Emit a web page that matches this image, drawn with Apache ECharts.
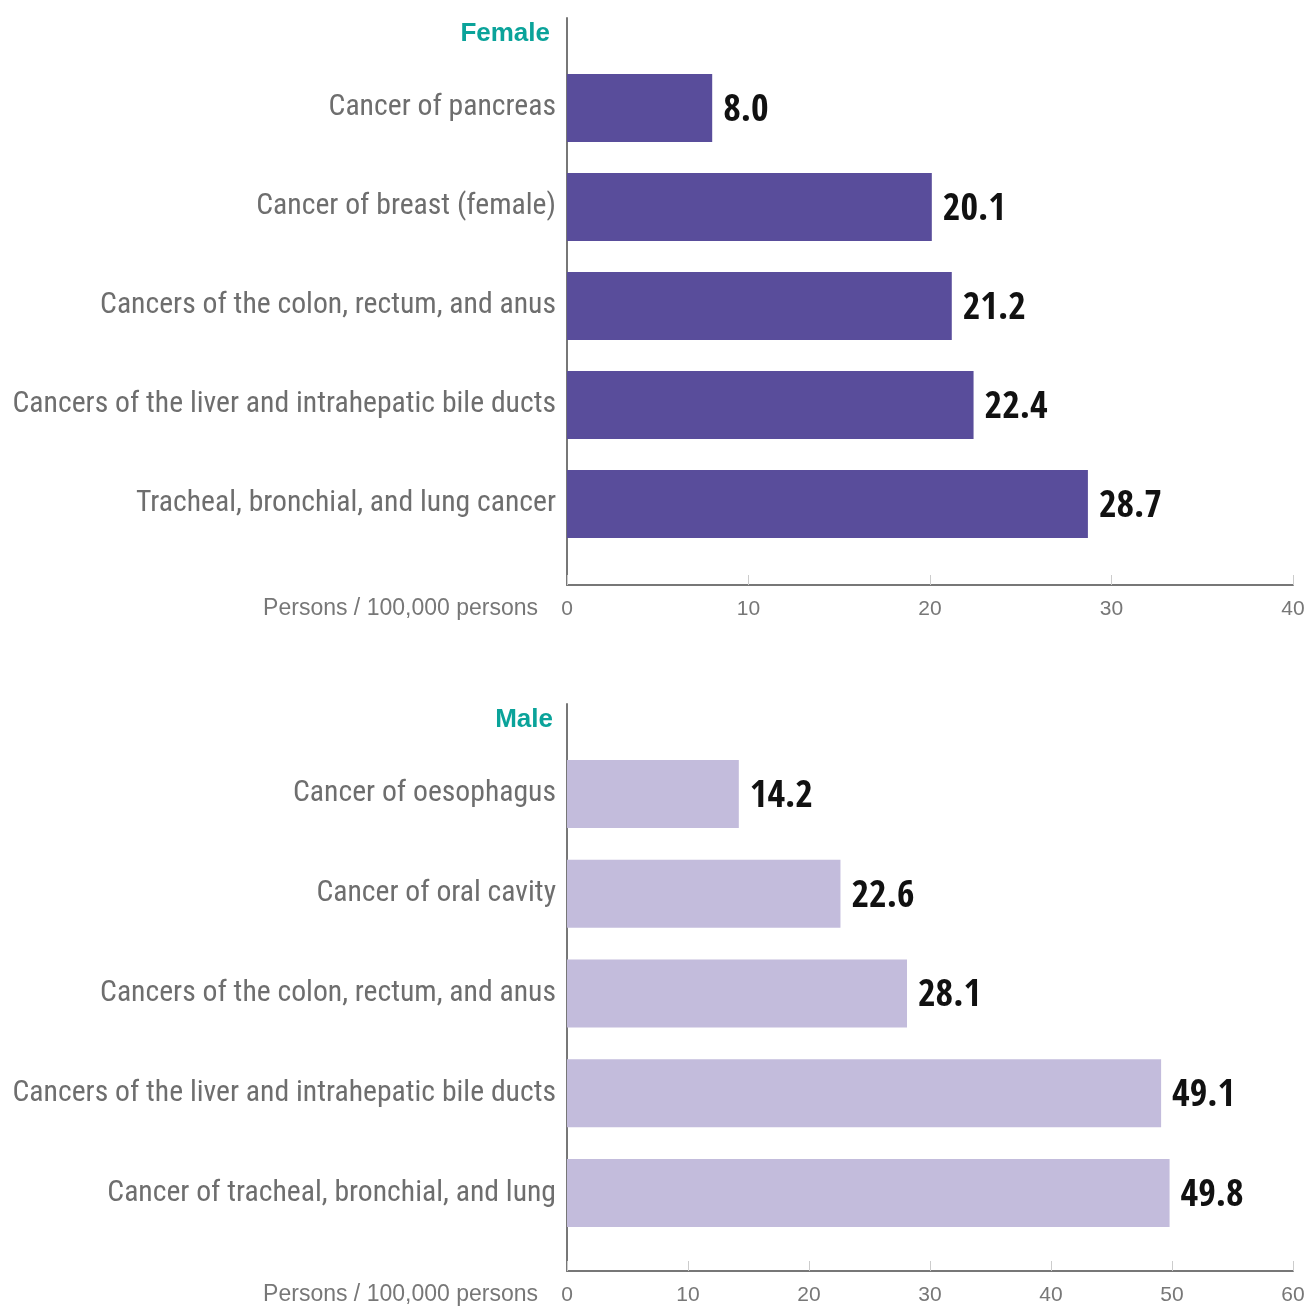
<!DOCTYPE html>
<html>
<head>
<meta charset="utf-8">
<script src="https://cdn.jsdelivr.net/npm/echarts@6/dist/echarts.min.js"></script>
<style>html,body{margin:0;padding:0;background:#fff}#c{width:1309px;height:1309px}</style>
</head>
<body>
<div id="c"></div>
<script>
const femaleCategories = ["Cancer of pancreas","Cancer of breast (female)","Cancers of the colon, rectum, and anus","Cancers of the liver and intrahepatic bile ducts","Tracheal, bronchial, and lung cancer"];
const femaleValues = [8.0, 20.1, 21.2, 22.4, 28.7];
const maleCategories = ["Cancer of oesophagus","Cancer of oral cavity","Cancers of the colon, rectum, and anus","Cancers of the liver and intrahepatic bile ducts","Cancer of tracheal, bronchial, and lung"];
const maleValues = [14.2, 22.6, 28.1, 49.1, 49.8];
const femaleTicks = {min: 0, max: 40, interval: 10};
const maleTicks = {min: 0, max: 60, interval: 10};
const axisName = "Persons / 100,000 persons";

// --- choose an installed condensed font and fit sizes to the reference text widths ---
const mctx = document.createElement('canvas').getContext('2d');
function w(font, text) { mctx.font = font; return mctx.measureText(text).width; }
function has(fam) {
  const t = 'abcdefghijklmnopqrstuvwxyz0123456789';
  return w('100px "' + fam + '", monospace', t) !== w('100px monospace', t) ||
         w('100px "' + fam + '", serif', t) !== w('100px serif', t);
}
const longest = "Cancers of the liver and intrahepatic bile ducts";
const catPrefs = ['Roboto Condensed', 'Liberation Sans Narrow', 'Open Sans Condensed', 'DejaVu Sans Condensed', 'Roboto'];
const catName = catPrefs.find(has) || 'sans-serif';
const catWeight = 'normal';
const catFam = '"' + catName + '", sans-serif';
const catSize = Math.min(36, Math.floor(100 * 544 / w(catWeight + ' 100px ' + catFam, longest) * 10) / 10);

const valPrefs = ['Open Sans Condensed', 'Roboto Condensed', 'Liberation Sans Narrow', 'DejaVu Sans Condensed', 'Roboto'];
const valName = valPrefs.find(has) || 'sans-serif';
const valFam = '"' + valName + '", sans-serif';
const valFit = 100 * 56 / w('bold 100px ' + valFam, '28.7');
const valSize = Math.round(valFit * 0.5 + 42 * 0.5);

const chart = echarts.init(document.getElementById('c'), null, {renderer: 'canvas'});
const grey = '#777777';
const arial = 'Liberation Sans, Arial, sans-serif';

function axisX(gridIndex, t) {
  return {
    type: 'value', gridIndex: gridIndex, min: t.min, max: t.max, interval: t.interval,
    axisLine: {show: true, lineStyle: {color: grey, width: 2}},
    axisTick: {show: true, inside: true, length: 10, lineStyle: {color: '#cccccc', width: 1}},
    axisLabel: {color: grey, fontSize: 21, fontFamily: arial, margin: 14},
    splitLine: {show: false},
    name: '\n' + axisName, nameLocation: 'start', nameGap: 29,
    nameTextStyle: {color: grey, fontSize: 23, fontFamily: arial, lineHeight: 48, align: 'right', verticalAlign: 'middle'}
  };
}
function hiddenX(gridIndex, t) {
  return {type: 'value', gridIndex: gridIndex, min: t.min, max: t.max, interval: t.interval, show: false};
}
function frameY(gridIndex) {
  return {type: 'value', gridIndex: gridIndex, min: 0, max: 1,
    axisLine: {show: true, lineStyle: {color: grey, width: 2}},
    axisTick: {show: false}, axisLabel: {show: false}, splitLine: {show: false}};
}
function catY(gridIndex, cats) {
  return {type: 'category', gridIndex: gridIndex, data: cats, inverse: true,
    axisLine: {show: false}, axisTick: {show: false},
    axisLabel: {color: '#6e6e6e', fontSize: catSize, fontWeight: catWeight, fontFamily: catFam, margin: 11,
      padding: [8, 0, 0, 0]}};
}
function barSeries(xi, yi, vals, color) {
  return {type: 'bar', xAxisIndex: xi, yAxisIndex: yi, data: vals, barWidth: 68,
    itemStyle: {color: color},
    label: {show: true, position: 'right', distance: 11, offset: [0, 3], formatter: p => p.value.toFixed(1),
      color: '#111111', fontSize: valSize, fontWeight: 'bold', fontFamily: valFam},
    silent: true};
}
const g = (top, height) => ({left: 567, width: 726, top: top, height: height, containLabel: false, outerBoundsMode: 'none'});

chart.setOption({
  animation: false,
  backgroundColor: '#ffffff',
  title: [
    {text: 'Female', right: 754, top: 16, textStyle: {color: '#0aa39a', fontSize: 26, fontWeight: 'bold', fontFamily: arial}},
    {text: 'Male', right: 751, top: 702, textStyle: {color: '#0aa39a', fontSize: 26, fontWeight: 'bold', fontFamily: arial}}
  ],
  grid: [g(18, 567), g(58.5, 495), g(704, 567), g(744, 499)],
  xAxis: [axisX(0, femaleTicks), hiddenX(1, femaleTicks), axisX(2, maleTicks), hiddenX(3, maleTicks)],
  yAxis: [frameY(0), catY(1, femaleCategories), frameY(2), catY(3, maleCategories)],
  series: [
    barSeries(1, 1, femaleValues, '#594d9b'),
    barSeries(3, 3, maleValues, '#c3bcdc')
  ]
});
</script>
</body>
</html>
